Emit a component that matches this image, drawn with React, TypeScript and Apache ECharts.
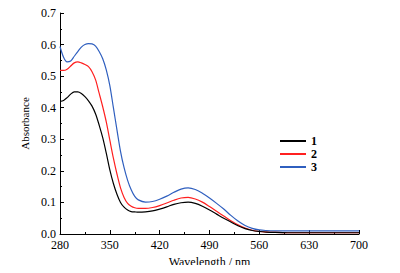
import React, { useEffect, useRef } from "react";
import * as echarts from "echarts";

const wavelengths = [
  280, 285, 290, 295, 300, 305, 310, 315, 320, 325, 330, 335, 340, 345, 350, 355,
  360, 365, 370, 375, 380, 385, 390, 400, 410, 420, 430, 440, 450, 460, 470, 480,
  490, 500, 510, 520, 530, 540, 550, 560, 570, 580, 600, 620, 640, 660, 680, 700,
];

const series1 = [
  0.42, 0.423, 0.432, 0.443, 0.45, 0.45, 0.445, 0.435, 0.422, 0.405, 0.38, 0.345,
  0.305, 0.256, 0.203, 0.16, 0.126, 0.1, 0.085, 0.076, 0.071, 0.07, 0.069, 0.07,
  0.073, 0.079, 0.086, 0.094, 0.099, 0.101, 0.097, 0.088, 0.076, 0.063, 0.05,
  0.038, 0.026, 0.017, 0.011, 0.008, 0.006, 0.005, 0.004, 0.004, 0.004, 0.004,
  0.004, 0.004,
];

const series2 = [
  0.518, 0.518, 0.522, 0.532, 0.542, 0.545, 0.542, 0.537, 0.53, 0.514, 0.488,
  0.446, 0.403, 0.355, 0.297, 0.24, 0.19, 0.146, 0.116, 0.097, 0.088, 0.083,
  0.081, 0.081, 0.084, 0.09, 0.098, 0.107, 0.114, 0.116, 0.111, 0.101, 0.087,
  0.072, 0.057, 0.042, 0.029, 0.019, 0.012, 0.008, 0.006, 0.005, 0.004, 0.004,
  0.004, 0.004, 0.004, 0.004,
];

const series3 = [
  0.594, 0.56, 0.545, 0.548, 0.563, 0.578, 0.592, 0.6, 0.603, 0.602, 0.595, 0.578,
  0.555, 0.52, 0.47, 0.4, 0.33, 0.262, 0.21, 0.17, 0.14, 0.119, 0.108, 0.101,
  0.103, 0.11, 0.12, 0.132, 0.142, 0.146, 0.141, 0.129, 0.114, 0.097, 0.079,
  0.059, 0.041, 0.027, 0.018, 0.013, 0.011, 0.01, 0.01, 0.01, 0.01, 0.01, 0.01,
  0.01,
];

const seriesNames = ["1", "2", "3"];
const seriesColors = ["#000000", "#ff2020", "#2f5fbf"];

const FONT = "Liberation Serif";

export default function App() {
  const ref = useRef<HTMLDivElement>(null);

  useEffect(() => {
    if (!ref.current) return;
    const chart = echarts.init(ref.current, null, { renderer: "svg" });
    const allSeries = [series1, series2, series3];
    chart.setOption({
      animation: false,
      backgroundColor: "#ffffff",
      textStyle: { fontFamily: FONT },
      grid: { left: 60, right: 41, top: 13, bottom: 39, containLabel: false },
      legend: {
        orient: "vertical",
        left: 280,
        top: 135,
        icon: "rect",
        itemWidth: 26,
        itemHeight: 2,
        itemGap: 1,
        padding: 0,
        data: seriesNames,
        textStyle: { fontFamily: FONT, fontWeight: "bold", fontSize: 12, color: "#000" },
      },
      xAxis: {
        type: "value",
        min: 280,
        max: 700,
        interval: 70,
        name: "Wavelength / nm",
        nameLocation: "middle",
        nameGap: 19,
        nameTextStyle: { fontFamily: FONT, fontSize: 12, color: "#000" },
        axisLine: { lineStyle: { color: "#000", width: 1 } },
        axisTick: { inside: true, length: 4, lineStyle: { color: "#000" } },
        minorTick: { show: true, splitNumber: 2, length: 2, lineStyle: { color: "#000" } },
        axisLabel: { fontFamily: FONT, fontSize: 12, color: "#000", margin: 5 },
        splitLine: { show: false },
      },
      yAxis: {
        type: "value",
        min: 0,
        max: 0.7,
        interval: 0.1,
        name: "Absorbance",
        nameLocation: "middle",
        nameGap: 25,
        nameTextStyle: { fontFamily: FONT, fontSize: 11, color: "#000" },
        axisLine: { show: true, lineStyle: { color: "#000", width: 1 } },
        axisTick: { show: true, inside: true, length: 4, lineStyle: { color: "#000" } },
        minorTick: { show: true, splitNumber: 2, length: 2, lineStyle: { color: "#000" } },
        axisLabel: {
          fontFamily: FONT,
          fontSize: 12,
          color: "#000",
          margin: 4,
          formatter: (v: number) => v.toFixed(1),
        },
        splitLine: { show: false },
      },
      series: allSeries.map((vals, i) => ({
        name: seriesNames[i],
        type: "line",
        data: wavelengths.map((w, j) => [w, vals[j]]),
        smooth: 0.3,
        symbol: "none",
        lineStyle: { color: seriesColors[i], width: 1.2 },
        itemStyle: { color: seriesColors[i] },
        z: 3 - i,
      })),
    });
    return () => chart.dispose();
  }, []);

  return <div ref={ref} style={{ width: 400, height: 273, margin: -8 }} />;
}
